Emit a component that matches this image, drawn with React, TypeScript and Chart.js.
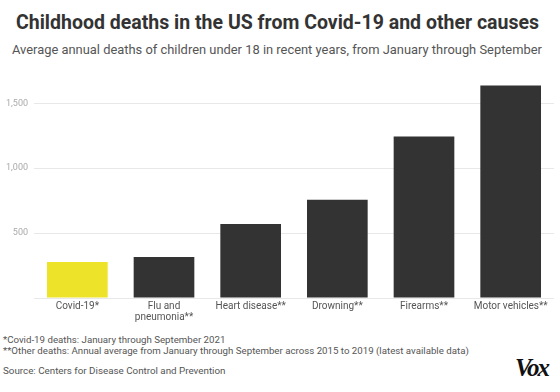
import React, { useEffect, useRef } from "react";
import { Chart, registerables } from "chart.js";

Chart.register(...registerables);

const categories: (string | string[])[] = [
  "Covid-19*",
  ["Flu and", "pneumonia**"],
  "Heart disease**",
  "Drowning**",
  "Firearms**",
  "Motor vehicles**",
];
const deaths = [277, 315, 570, 757, 1245, 1638];
const barColors = ["#ede42a", "#333333", "#333333", "#333333", "#333333", "#333333"];
const yTickValues = [500, 1000, 1500];

const title = "Childhood deaths in the US from Covid-19 and other causes";
const subtitle =
  "Average annual deaths of children under 18 in recent years, from January through September";
const footnotes = [
  "*Covid-19 deaths: January through September 2021",
  "**Other deaths: Annual average from January through September across 2015 to 2019 (latest available data)",
];
const source = "Source: Centers for Disease Control and Prevention";

const FONT = "Roboto, 'Liberation Sans', sans-serif";

export default function App() {
  const ref = useRef<HTMLCanvasElement | null>(null);

  useEffect(() => {
    document.body.style.margin = "0";
    const ctx = ref.current!;
    const chart = new Chart(ctx, {
      type: "bar",
      data: {
        labels: categories,
        datasets: [
          {
            data: deaths,
            backgroundColor: barColors,
            categoryPercentage: 0.7,
            barPercentage: 1,
          },
        ],
      },
      options: {
        animation: false,
        responsive: false,
        maintainAspectRatio: false,
        layout: { padding: { top: 5, right: 6, left: 0, bottom: 0 } },
        plugins: {
          legend: { display: false },
          tooltip: { enabled: false },
          title: { display: false },
        },
        scales: {
          x: {
            grid: { display: false, drawTicks: false },
            border: { display: false },
            ticks: {
              color: "#555",
              font: { family: FONT, size: 10, lineHeight: 1.1 },
              padding: 3,
              maxRotation: 0,
              autoSkip: false,
            },
            afterFit: (s: any) => {
              s.height = 32;
            },
          },
          y: {
            min: 0,
            max: 1700,
            afterBuildTicks: (s: any) => {
              s.ticks = [0, ...yTickValues, 1700].map((v) => ({ value: v }));
            },
            grid: {
              color: (c: any) =>
                c.tick && (yTickValues.includes(c.tick.value) || c.tick.value === 0)
                  ? "#e8e8e8"
                  : "rgba(0,0,0,0)",
              drawTicks: false,
              lineWidth: 1,
            },
            border: { display: false },
            ticks: {
              color: "#aaa",
              font: { family: FONT, size: 9 },
              padding: 6,
              callback: (v: any) =>
                yTickValues.includes(Number(v)) ? Number(v).toLocaleString("en-US") : "",
            },
            afterFit: (s: any) => {
              s.width = 34;
            },
          },
        },
      },
    });
    return () => chart.destroy();
  }, []);

  return (
    <div
      style={{
        position: "fixed",
        left: 0,
        top: 0,
        width: 560,
        height: 392,
        background: "#fff",
        fontFamily: FONT,
        overflow: "hidden",
      }}
    >
      <div
        style={{
          position: "absolute",
          left: 16,
          top: 11,
          fontSize: 19.5,
          fontWeight: 700,
          color: "#333",
          whiteSpace: "nowrap",
          lineHeight: "24px",
        }}
      >
        {title}
      </div>
      <div
        style={{
          position: "absolute",
          left: 12,
          top: 42,
          fontSize: 12.9,
          color: "#555",
          whiteSpace: "nowrap",
          lineHeight: "16px",
        }}
      >
        {subtitle}
      </div>
      <canvas
        ref={ref}
        width={560}
        height={264}
        style={{ position: "absolute", left: 0, top: 66, width: 560, height: 264 }}
      />
      <div
        style={{
          position: "absolute",
          left: 3,
          top: 335,
          fontSize: 9.7,
          color: "#555",
          lineHeight: "10.5px",
          whiteSpace: "nowrap",
        }}
      >
        <div>{footnotes[0]}</div>
        <div>{footnotes[1]}</div>
      </div>
      <div
        style={{
          position: "absolute",
          left: 3,
          top: 364.5,
          fontSize: 9.8,
          color: "#555",
          lineHeight: "11px",
          whiteSpace: "nowrap",
        }}
      >
        {source}
      </div>
      <div
        style={{
          position: "absolute",
          left: 515,
          top: 354,
          fontSize: 25,
          fontWeight: 700,
          fontStyle: "italic",
          fontFamily: "'Liberation Serif', 'DejaVu Serif', serif",
          color: "#111",
          letterSpacing: -2,
          lineHeight: "28px",
        }}
      >
        Vox
      </div>
    </div>
  );
}
